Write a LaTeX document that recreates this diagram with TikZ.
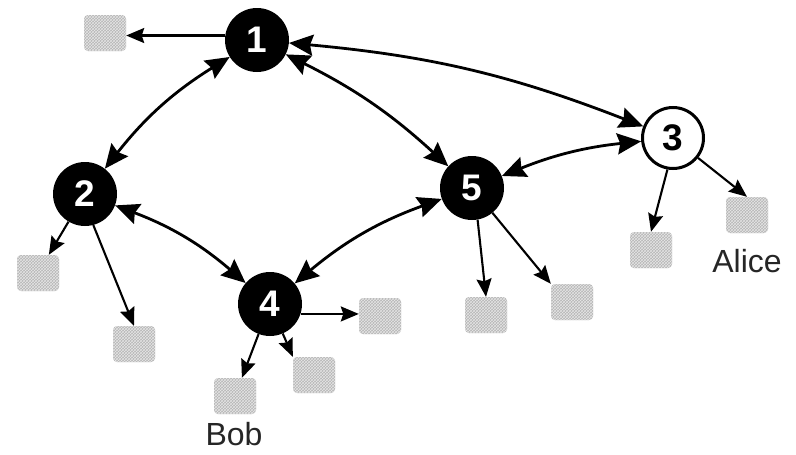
\documentclass[tikz,border=0pt]{standalone}
\usepackage{fontspec}
\setmainfont{Liberation Sans}
\usetikzlibrary{arrows.meta,patterns}
\begin{document}
\begin{tikzpicture}[x=1pt,y=-1pt,
  peer/.style={circle,fill=black,minimum size=64pt,inner sep=0pt,
    text=white,font=\fontsize{37}{37}\selectfont\bfseries},
  openpeer/.style={circle,draw=black,line width=3pt,fill=white,minimum size=61pt,
    inner sep=0pt,text=black,font=\fontsize{37}{37}\selectfont\bfseries},
  leaf/.style={rectangle,rounded corners=4pt,minimum width=42pt,minimum height=36pt,
    inner sep=0pt,fill=gray!58,
    postaction={pattern=crosshatch,pattern color=white!80!gray}},
  bigtip/.tip={Stealth[length=24pt,width=21pt,inset=3pt]},
  smalltip/.tip={Stealth[length=18pt,width=15pt,inset=2.5pt]},
  biedge/.style={line width=2.8pt,bigtip-bigtip},
  leafarrow/.style={line width=2.1pt,-smalltip},
  namelabel/.style={font=\fontsize{32}{32}\selectfont,text=black!85}]
\useasboundingbox (0,0) rectangle (796,455);

% peers
\node[peer] (n1) at (257,40) {1};
\node[peer] (n2) at (85,194) {2};
\node[openpeer] (n3) at (673,138) {3};
\node[peer] (n4) at (270,304) {4};
\node[peer] (n5) at (472,188) {5};

% stored items
\node[leaf] (s1) at (105,33) {};
\node[leaf] (s2a) at (38,273) {};
\node[leaf] (s2b) at (134,344) {};
\node[leaf] (s4a) at (235,396) {};
\node[leaf] (s4b) at (314,375) {};
\node[leaf] (s4c) at (380,316) {};
\node[leaf] (s5a) at (486,315) {};
\node[leaf] (s5b) at (572,302) {};
\node[leaf] (s3a) at (651,250) {};
\node[leaf] (s3b) at (747,215) {};

\node[namelabel] (alice) at (747,261) {Alice};
\node[namelabel] (bob) at (234,434) {Bob};

% links between peers
\draw[biedge] (n1) to[bend right=10] (n2);
\draw[biedge] (n1) to[bend left=8] (n5);
\draw[biedge] (n1) to[bend left=8] (n3);
\draw[biedge] (n2) to[bend left=10] (n4);
\draw[biedge] (n4) to[bend left=10] (n5);
\draw[biedge] (n5) to[bend left=8] (n3);

% links to stored items
\draw[leafarrow] (n1.172) -- (s1.east |- n1.172);
\draw[leafarrow] (n2) -- (s2a);
\draw[leafarrow] (n2.-75) -- (s2b.north);
\draw[leafarrow] (n4) -- (s4a);
\draw[leafarrow] (n4) -- (s4b.north west);
\draw[leafarrow] (n4.-18) -- (s4c.west |- n4.-18);
\draw[leafarrow] (n5.-80) -- (s5a.north);
\draw[leafarrow] (n5) -- (s5b.north west);
\draw[leafarrow] (n3.-100) -- (s3a.north);
\draw[leafarrow] (n3) -- (s3b.north);
\end{tikzpicture}
\end{document}
